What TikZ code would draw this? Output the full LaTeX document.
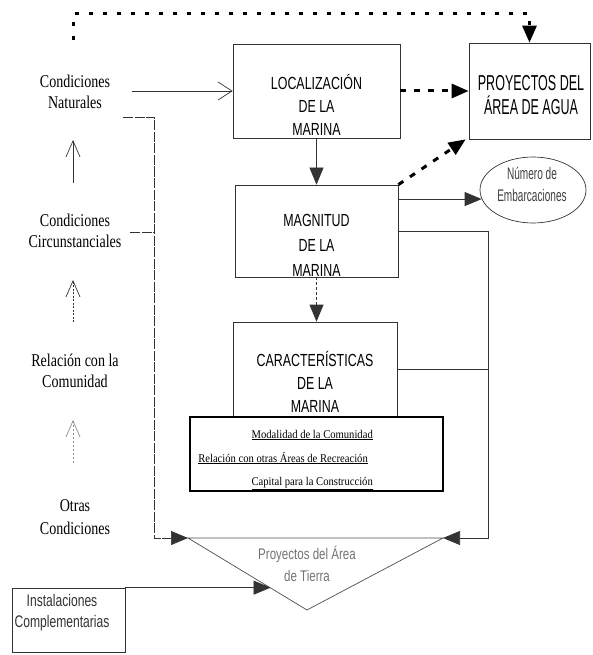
\documentclass[tikz,border=0pt]{standalone}
\usepackage{fontspec}
\setmainfont{Liberation Serif}
\newfontfamily\boxfont[FakeStretch=0.71]{Liberation Sans}
\newfontfamily\proyfont[FakeStretch=0.58]{Liberation Sans}
\newfontfamily\embfont[FakeStretch=0.6]{Liberation Sans}
\newfontfamily\trifont[FakeStretch=0.75]{Liberation Sans}
\newfontfamily\instfont[FakeStretch=0.72]{Liberation Sans}
\newfontfamily\leftserif[FakeStretch=0.78]{Liberation Serif}
\newfontfamily\tabserif[FakeStretch=0.9]{Liberation Serif}
\usetikzlibrary{arrows.meta,shapes.geometric,calc}
\begin{document}
\begin{tikzpicture}[x=1pt,y=-1pt,
  box/.style={draw=black!80, line width=0.7pt, rectangle, inner sep=0pt},
  boxtext/.style={font=\boxfont\fontsize{17.5}{23}\selectfont, align=center, inner sep=0pt},
  lefttext/.style={font=\leftserif\fontsize{18}{21}\selectfont, align=center, inner sep=0pt},
  tabletext/.style={font=\tabserif\fontsize{11.8}{13}\selectfont, inner sep=0pt, anchor=base east},
  graytext/.style={font=\trifont\fontsize{15.4}{22}\selectfont, text=black!55, align=center, inner sep=0pt},
  dotline/.style={line width=3pt, dash pattern=on 4pt off 10pt},
  dotlineb/.style={line width=3pt, dash pattern=on 6pt off 8pt},
  bigtip/.style={-{Triangle[length=17pt,width=14pt]}},
  conn/.style={draw=black!80, line width=0.7pt},
  scan/.style={conn, dash pattern=on 10pt off 1.5pt},
  openup/.style={-{Straight Barb[length=16pt,width=14pt]}},
  openright/.style={-{Straight Barb[length=14pt,width=18pt]}},
]
\useasboundingbox (0,0) rectangle (592,655);

% named points
\coordinate (tL) at (188,538);
\coordinate (tR) at (443,538);
\coordinate (tB) at (307,610);
\coordinate (rc) at (488,538);
\coordinate (topL) at (73,40);
\coordinate (natout) at (132,91);
\coordinate (natlow) at (123,117);
\coordinate (circout) at (130,232);
\coordinate (vl) at (154,117);
\coordinate (a1s) at (73,183);
\coordinate (a1e) at (73,140);
\coordinate (a2s) at (73,322);
\coordinate (a2e) at (73,280);
\coordinate (a3s) at (73,463);
\coordinate (a3e) at (73,420);

% boxes
\node[box, minimum width=167pt, minimum height=94pt] (loc) at (316.5,91) {};
\node[box, minimum width=121pt, minimum height=96pt] (proy) at (529.5,91) {};
\node[box, minimum width=163pt, minimum height=92pt] (mag) at (316.5,231) {};
\node[box, minimum width=164pt, minimum height=95pt] (carac) at (315,369.5) {};
\node[draw=black, line width=1.1pt, fill=white, minimum width=253pt, minimum height=74pt, inner sep=0pt] (tab) at (316.5,454) {};
\node[draw=black!80, line width=0.7pt, ellipse, minimum width=106pt, minimum height=66pt, inner sep=0pt] (emb) at (533,190) {};
\node[box, minimum width=113pt, minimum height=64pt] (inst) at (68.5,620) {};

% box texts
\node[boxtext] (locT) at (316.5,104.8) {LOCALIZACIÓN\\DE LA\\MARINA};
\node[boxtext, font=\proyfont\fontsize{21.6}{24}\selectfont] (proyT) at (531,95.5) {PROYECTOS DEL\\ÁREA DE AGUA};
\node[boxtext, font=\boxfont\fontsize{17.5}{25}\selectfont] (magT) at (316.5,245.7) {MAGNITUD\\DE LA\\MARINA};
\node[boxtext] (caracT) at (315,381.8) {CARACTERÍSTICAS\\DE LA\\MARINA};
\node[font=\embfont\fontsize{16.8}{22}\selectfont, align=center, text=black!75, inner sep=0pt] (embT) at (532,184.7) {Número de\\Embarcaciones};
\node[font=\instfont\fontsize{16.8}{21}\selectfont, align=center, text=black!80, inner sep=0pt] (instT) at (62,613.1) {Instalaciones\\Complementarias};

% left column
\node[lefttext] (nat) at (75,91.8) {Condiciones\\Naturales};
\node[lefttext] (circ) at (75,231.3) {Condiciones\\Circunstanciales};
\node[lefttext] (com) at (75,371.3) {Relación con la\\Comunidad};
\node[lefttext, font=\leftserif\fontsize{18}{23}\selectfont] (otras) at (75,517.4) {Otras\\Condiciones};

% table texts
\node[tabletext] (t1) at (373,438) {\underline{Modalidad de la Comunidad}};
\node[tabletext] (t2) at (368,462) {\underline{Relación con otras Áreas de Recreación}};
\node[tabletext] (t3) at (373,485) {\underline{Capital para la Construcción}};

% triangle
\draw[conn, draw=black!70] (tL) -- (tR) -- (tB) -- cycle;
\node[graytext] (tierra) at (307,563.9) {Proyectos del Área\\de Tierra};
\coordinate (tI) at ($(tL)!0.694!(tB)$);

% connectors
\draw[dotline, bigtip] (topL) -- (73,14) -| (proy.north);
\draw[dotlineb, bigtip] (loc.east) -- (proy.west);
\draw[dotlineb, bigtip] (mag.north east) -- ($(proy.south west)+(-3,0)$);
\draw[conn, bigtip] (loc.south) -- (mag.north);
\draw[conn, dash pattern=on 3pt off 2pt, bigtip] (mag.south) -- (mag.south |- carac.north);
\draw[conn, bigtip] (mag.east |- emb.190) -- (emb.190);
\draw[conn, bigtip] (mag.east) -| (rc) -- (tR);
\draw[conn] (carac.east) -- (carac.east -| rc);
\draw[conn, openright] (natout) -- (loc.west);
\draw[scan, bigtip] (natlow) -- (vl) -- (vl |- tL) -- (tL);
\draw[scan] (circout) -- (circout -| vl);
\draw[conn, openup] (a1s) -- (a1e);
\draw[conn, dash pattern=on 2pt off 1.5pt, openup] (a2s) -- (a2e);
\draw[conn, draw=black!45, dash pattern=on 2pt off 2pt, openup] (a3s) -- (a3e);
\draw[conn, bigtip] (inst.north east) -- (inst.north east -| tI);
\end{tikzpicture}
\end{document}
